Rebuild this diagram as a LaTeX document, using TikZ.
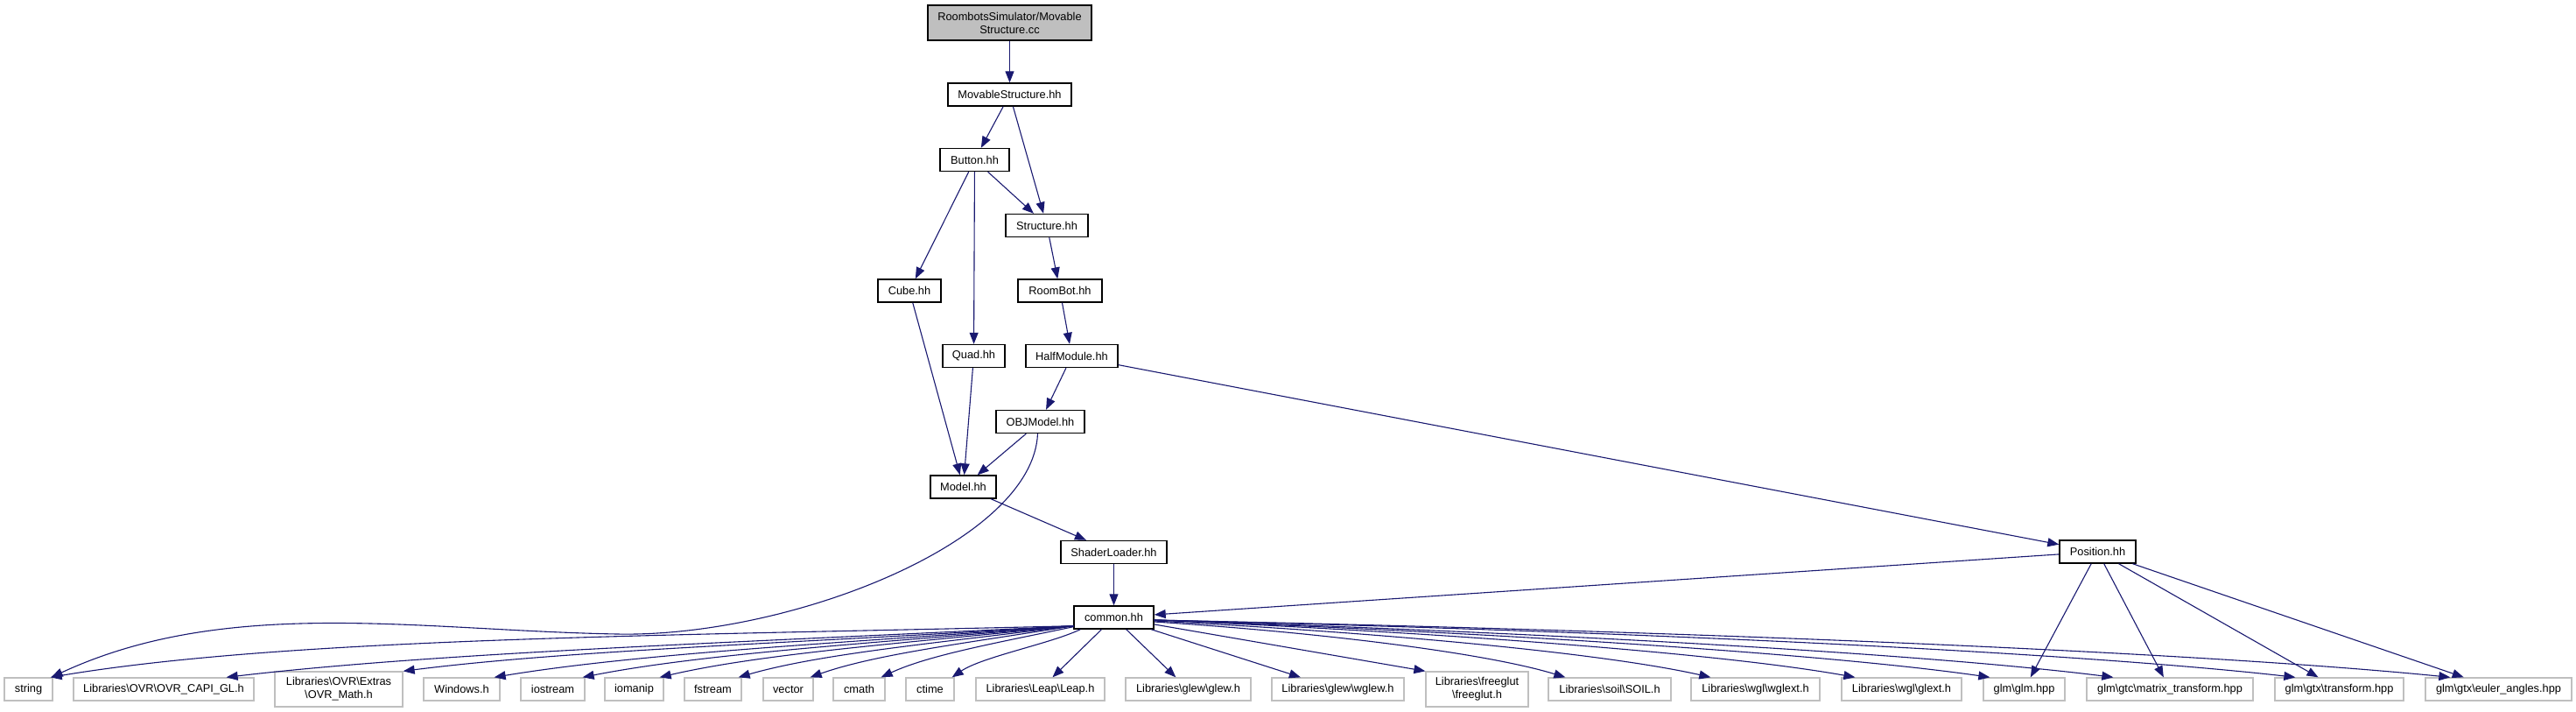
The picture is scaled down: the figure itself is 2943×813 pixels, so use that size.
\documentclass[tikz,border=0pt]{standalone}
\usepackage{fontspec}
\setmainfont{Liberation Sans}
\usetikzlibrary{arrows.meta}
\definecolor{edgecol}{HTML}{191970}
\definecolor{extgray}{HTML}{BFBFBF}
\definecolor{rootgray}{HTML}{BFBFBF}
\newcommand{\myBS}{\textbackslash{}}
\tikzset{
  main/.style={draw=black, line width=1.4pt, fill=white, minimum height=26pt, inner sep=0pt, align=center, font=\fontsize{12.8}{15}\selectfont},
  ext/.style={draw=extgray, line width=1.3pt, fill=white, minimum height=26pt, inner sep=0pt, align=center, font=\fontsize{12.8}{15}\selectfont},
  edge/.style={draw=edgecol, line width=1.1pt, -{Triangle[length=13pt,width=10pt]}},
}
\begin{document}
\begin{tikzpicture}[x=1pt,y=-1pt]
\useasboundingbox (0,0) rectangle (2943,813);
% main nodes
\node[main, fill=rootgray, minimum width=187pt, minimum height=40pt] (root) at (1153.5,26) {RoombotsSimulator/Movable\\Structure.cc};
\node[main, minimum width=141pt] (ms) at (1153.5,108) {MovableStructure.hh};
\node[main, minimum width=79pt] (button) at (1113.5,182.5) {Button.hh};
\node[main, minimum width=94pt] (structure) at (1196,257.5) {Structure.hh};
\node[main, minimum width=72pt] (cube) at (1039,332) {Cube.hh};
\node[main, minimum width=96pt] (roombot) at (1211,332) {RoomBot.hh};
\node[main, minimum width=71pt] (quad) at (1112.5,406.5) {Quad.hh};
\node[main, minimum width=105pt] (halfmodule) at (1224.5,406.5) {HalfModule.hh};
\node[main, minimum width=101pt] (objmodel) at (1188.5,481.5) {OBJModel.hh};
\node[main, minimum width=75pt] (model) at (1100.5,556) {Model.hh};
\node[main, minimum width=121pt] (shader) at (1272.5,630.5) {ShaderLoader.hh};
\node[main, minimum width=87pt] (position) at (2396.5,630) {Position.hh};
\node[main, minimum width=91pt] (common) at (1272.5,705) {common.hh};
% external nodes
\node[ext, minimum width=55pt] (string) at (32.5,787) {string};
\node[ext, minimum width=206pt] (capi) at (187,787) {Libraries\myBS OVR\myBS OVR\_CAPI\_GL.h};
\node[ext, minimum width=146pt, minimum height=40pt] (ovrmath) at (387,787) {Libraries\myBS OVR\myBS Extras\\\myBS OVR\_Math.h};
\node[ext, minimum width=87pt] (windows) at (527.5,787) {Windows.h};
\node[ext, minimum width=73pt] (iostream) at (631.5,787) {iostream};
\node[ext, minimum width=67pt] (iomanip) at (724.5,787) {iomanip};
\node[ext, minimum width=65pt] (fstream) at (814.5,787) {fstream};
\node[ext, minimum width=57pt] (vector) at (900.5,787) {vector};
\node[ext, minimum width=59pt] (cmath) at (981.5,787) {cmath};
\node[ext, minimum width=55pt] (ctime) at (1062.5,787) {ctime};
\node[ext, minimum width=147pt] (leap) at (1188.5,787) {Libraries\myBS Leap\myBS Leap.h};
\node[ext, minimum width=143pt] (glew) at (1357.5,787) {Libraries\myBS glew\myBS glew.h};
\node[ext, minimum width=151pt] (wglew) at (1528.5,787) {Libraries\myBS glew\myBS wglew.h};
\node[ext, minimum width=117pt, minimum height=40pt] (freeglut) at (1687.5,787) {Libraries\myBS freeglut\\\myBS freeglut.h};
\node[ext, minimum width=140pt] (soil) at (1839,787) {Libraries\myBS soil\myBS SOIL.h};
\node[ext, minimum width=147pt] (wglext) at (2005.5,787) {Libraries\myBS wgl\myBS wglext.h};
\node[ext, minimum width=137pt] (glext) at (2172.5,787) {Libraries\myBS wgl\myBS glext.h};
\node[ext, minimum width=93pt] (glm) at (2312.5,787) {glm\myBS glm.hpp};
\node[ext, minimum width=190pt] (mtrans) at (2479,787) {glm\myBS gtc\myBS matrix\_transform.hpp};
\node[ext, minimum width=147pt] (gtrans) at (2672.5,787) {glm\myBS gtx\myBS transform.hpp};
\node[ext, minimum width=167pt] (euler) at (2854.5,787) {glm\myBS gtx\myBS euler\_angles.hpp};
% upper edges
\draw[edge] (root) -- (ms);
\draw[edge] (ms) -- (button);
\draw[edge] (ms) -- (structure);
\draw[edge] (button) -- (structure);
\draw[edge] (button) -- (cube);
\draw[edge] (button) -- (quad);
\draw[edge] (structure) -- (roombot);
\draw[edge] (roombot) -- (halfmodule);
\draw[edge] (halfmodule) -- (objmodel);
\draw[edge] (halfmodule) -- (position);
\draw[edge] (cube) -- (model);
\draw[edge] (quad) -- (model);
\draw[edge] (objmodel) -- (model);
\draw[edge] (model) -- (shader);
\draw[edge] (shader) -- (common);
\draw[edge] (position) -- (common);
\draw[edge] ([xshift=-3pt]objmodel.south) .. controls (1180,620) and (900,728) .. (705,724)
   .. controls (480,720) and (260,680) .. ([xshift=-2pt]string.north east);
% position edges
\draw[edge] (position) -- (glm);
\draw[edge] (position) -- (mtrans);
\draw[edge] (position) -- (gtrans);
\draw[edge] (position) -- (euler);
% common edges, left
\draw[edge] ([yshift=4pt]common.south west) .. controls (760,726) and (330,728) .. ([xshift=-3pt]string.north east);
\draw[edge] ([yshift=4pt]common.south west) .. controls (839,734) and (500,745) .. ([xshift=-32pt]capi.north east);
\draw[edge] ([yshift=4pt]common.south west) .. controls (920,734) and (652,742) .. (ovrmath.north east);
\draw[edge] ([yshift=4pt]common.south west) .. controls (962,734) and (730,746) .. ([xshift=-7pt]windows.north east);
\draw[edge] ([yshift=4pt]common.south west) .. controls (1002,734) and (805,746) .. ([xshift=-3pt]iostream.north east);
\draw[edge] ([yshift=4pt]common.south west) .. controls (1037,734) and (872,746) .. ([xshift=-5pt]iomanip.north east);
\draw[edge] ([yshift=4pt]common.south west) .. controls (1073,734) and (939,746) .. ([xshift=-4pt]fstream.north east);
\draw[edge] ([yshift=4pt]common.south west) .. controls (1106,734) and (1000,747) .. ([xshift=-4pt]vector.north east);
\draw[edge] ([yshift=3pt]common.south west) .. controls (1139,734) and (1061,748) .. ([xshift=-5pt]cmath.north east);
\draw[edge] ([xshift=8pt]common.south west) .. controls (1200,735) and (1122,750) .. ([xshift=-3pt]ctime.north east);
% common edges, straight
\draw[edge] (common) -- (leap);
\draw[edge] (common) -- (glew);
\draw[edge] (common) -- (wglew);
\draw[edge] (common) -- (freeglut.north west);
% common edges, right
\draw[edge] ([yshift=-5pt]common.east) .. controls (1506,722) and (1695,745) .. ([xshift=20pt]soil.north west);
\draw[edge] ([yshift=-4pt]common.east) .. controls (1573,722) and (1828,745) .. ([xshift=23pt]wglext.north west);
\draw[edge] ([yshift=-3pt]common.east) .. controls (1639,722) and (1960,745) .. ([xshift=16pt]glext.north west);
\draw[edge] ([yshift=-3pt]common.east) .. controls (1700,722) and (2083,746) .. ([xshift=8pt]glm.north west);
\draw[edge] ([yshift=-3pt]common.east) .. controls (1757,722) and (2196,746) .. ([xshift=31pt]mtrans.north west);
\draw[edge] ([yshift=-3pt]common.east) .. controls (1840,720) and (2362,744) .. ([xshift=24pt]gtrans.north west);
\draw[edge] ([yshift=-3pt]common.east) .. controls (1911,720) and (2504,744) .. ([xshift=29pt]euler.north west);
\end{tikzpicture}
\end{document}
